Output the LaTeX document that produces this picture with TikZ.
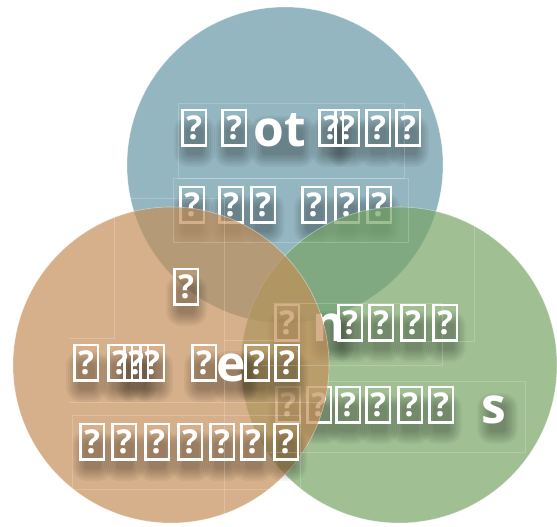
\documentclass[tikz,border=0pt]{standalone}
\usepackage{fontspec}
\setsansfont{Open Sans}
\definecolor{ringblue}{RGB}{102,151,165}
\definecolor{ringorange}{RGB}{196,142,88}
\definecolor{ringgreen}{RGB}{119,165,102}
\begin{document}
\begin{tikzpicture}[x=1bp,y=-1bp,
  ring/.style={circle,minimum size=316bp,inner sep=0pt,draw=white,draw opacity=0.45,
    line width=0.6bp,fill opacity=0.7},
  qbox/.style={draw=white,line width=2.6bp,inner sep=0pt,minimum width=23.4bp,
    minimum height=35.4bp,anchor=south west,text=white,
    font=\sffamily\bfseries\fontsize{33}{33}\selectfont},
  letter/.style={inner sep=0pt,anchor=base west,text=white,
    font=\sffamily\bfseries\fontsize{50}{50}\selectfont},
  blob/.style={fill=black,opacity=0.042},
  frame/.style={draw=white,draw opacity=0.2,line width=0.6bp}
]
\useasboundingbox (0,0) rectangle (557,527);

% soft drop shadow: left / bottom / width of the glyph run it sits under
\newcommand\softshadow[3]{%
  \foreach \g in {0,2,...,12}
    {\fill[blob,rounded corners=3bp+\g] (#1+6-\g,#2-20-\g) rectangle (#1+#3+3+\g,#2+7+\g);}}

% missing-glyph boxes: left edge / bottom edge
\def\blueq{180/148,220/148,317/148,333/148,364/148,394/148,
           178/225,217/225,249/225,300/225,333/225,365/225}
\def\greenq{273/343,336/343,367/343,399/343,431/343,
            274/425,305/425,334/425,364/425,396/425,427/425}
\def\orangeq{172/307,72/383,106/383,122/383,138/383,190/383,243/383,273/383,
             78/462,110/462,143/462,176/462,208/462,239/462,272/462}

% ---- blue set ----
\node[ring,fill=ringblue] (blue) at (285,165) {};
\foreach \px/\py in \blueq {\softshadow{\px}{\py}{20}}
\softshadow{256}{148}{44}
\foreach \px/\py [count=\i] in \blueq {\node[qbox] (bq\i) at (\px+1.3,\py-1.3) {?};}
\node[letter] (bot) at (253,146.5) {ot};

% ---- green set ----
\node[ring,fill=ringgreen] (green) at (399,365) {};
\foreach \px/\py in \greenq {\softshadow{\px}{\py}{20}}
\softshadow{315}{343}{24}
\softshadow{483}{425}{20}
\foreach \px/\py [count=\i] in \greenq {\node[qbox] (gq\i) at (\px+1.3,\py-1.3) {?};}
\node[letter] (gn) at (312,341.5) {n};
\node[letter] (gs) at (481,423.5) {s};

% ---- orange set ----
\node[ring,fill=ringorange] (orange) at (171,365) {};
\foreach \px/\py in \orangeq {\softshadow{\px}{\py}{20}}
\softshadow{219}{383}{24}
\foreach \px/\py [count=\i] in \orangeq {\node[qbox] (oq\i) at (\px+1.3,\py-1.3) {?};}
\node[letter] (oe) at (216,381.5) {e};

% ---- faint text-frame outlines ----
\draw[frame] (178,103) rectangle (404,178);
\draw[frame] (173,178) rectangle (408,242);
\draw[frame] (114,198) -- (114,338) -- (69,338);
\draw[frame] (114,198) -- (224,198) -- (224,520);
\draw[frame] (224,340) -- (273,340);
\draw[frame] (69,402) -- (320,402);
\draw[frame] (72,415) rectangle (300,489);
\draw[frame] (273,303) -- (442,303) -- (442,365) -- (262,365);
\draw[frame] (474,225) -- (474,341) -- (426,341);
\draw[frame] (327,381) -- (525,381) -- (525,452) -- (270,452);
\end{tikzpicture}
\end{document}
